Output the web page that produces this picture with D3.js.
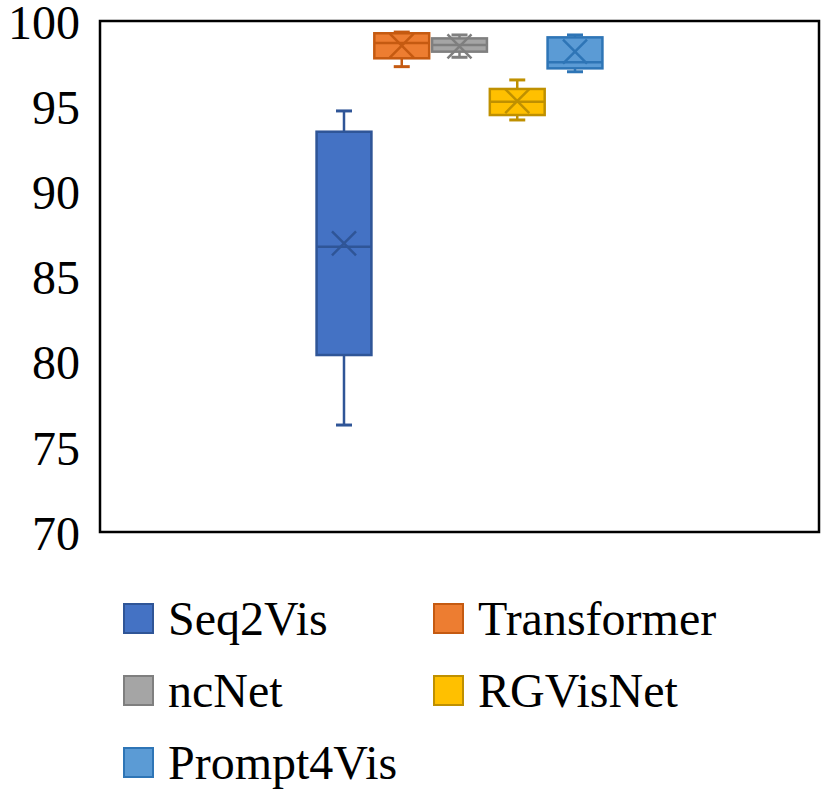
<!DOCTYPE html>
<html>
<head>
<meta charset="utf-8">
<script src="https://cdn.jsdelivr.net/npm/d3@7"></script>
<style>
  body { margin: 0; background: #fff; }
  svg text { font-family: "Liberation Serif", "Times New Roman", serif; fill: #000; }
</style>
</head>
<body>
<div id="chart"></div>
<script>
// box & whisker summary per model
const models = ["Seq2Vis", "Transformer", "ncNet", "RGVisNet", "Prompt4Vis"];
const whiskerLow = [76.28, 97.32, 97.87, 94.19, 97.02];
const q1 = [80.39, 97.81, 98.20, 94.48, 97.22];
const median = [86.75, 98.71, 98.59, 95.26, 97.58];
const q3 = [93.50, 99.28, 98.98, 96.01, 99.04];
const whiskerHigh = [94.72, 99.35, 99.18, 96.54, 99.18];
const means = [86.95, 98.56, 98.51, 95.30, 98.20];
const yTicks = [70, 75, 80, 85, 90, 95, 100];

const fills = ["#4472C4", "#ED7D31", "#A5A5A5", "#FFC000", "#5B9BD5"];
const strokes = ["#2F5597", "#C55A11", "#7F7F7F", "#BF9000", "#2E75B6"];

const width = 832, height = 796;
const plot = { left: 100, top: 21, right: 819, bottom: 532 };

const svg = d3.select("#chart").append("svg")
  .attr("width", width)
  .attr("height", height);

const y = d3.scaleLinear().domain([70, 100]).range([plot.bottom, plot.top]);

// one category, five series side by side in the middle
const x = d3.scaleBand()
  .domain(models)
  .range([plot.left, plot.right])
  .paddingInner(0.05)
  .paddingOuter(3.75);

const data = models.map((m, i) => ({
  name: m, lo: whiskerLow[i], q1: q1[i], med: median[i], q3: q3[i],
  hi: whiskerHigh[i], mean: means[i], fill: fills[i], stroke: strokes[i]
}));

// y axis labels only
const yAxis = svg.append("g")
  .attr("transform", `translate(${plot.left},0)`)
  .call(d3.axisLeft(y).tickValues(yTicks).tickSize(0).tickPadding(20));
yAxis.select(".domain").remove();
yAxis.selectAll("text")
  .attr("font-size", 48)
  .attr("dy", "0.36em")
  .attr("font-family", "Liberation Serif, Times New Roman, serif")
  .attr("fill", "#000");

const capW = 16;
const markSize = 12;

const boxes = svg.selectAll(".box")
  .data(data)
  .enter()
  .append("g")
  .attr("class", "box");

// whiskers
boxes.append("line")
  .attr("x1", d => x(d.name) + x.bandwidth() / 2)
  .attr("x2", d => x(d.name) + x.bandwidth() / 2)
  .attr("y1", d => y(d.hi))
  .attr("y2", d => y(d.q3))
  .attr("stroke", d => d.stroke).attr("stroke-width", 2.5);
boxes.append("line")
  .attr("x1", d => x(d.name) + x.bandwidth() / 2)
  .attr("x2", d => x(d.name) + x.bandwidth() / 2)
  .attr("y1", d => y(d.q1))
  .attr("y2", d => y(d.lo))
  .attr("stroke", d => d.stroke).attr("stroke-width", 2.5);
boxes.append("line")
  .attr("x1", d => x(d.name) + x.bandwidth() / 2 - capW / 2)
  .attr("x2", d => x(d.name) + x.bandwidth() / 2 + capW / 2)
  .attr("y1", d => y(d.hi)).attr("y2", d => y(d.hi))
  .attr("stroke", d => d.stroke).attr("stroke-width", 3);
boxes.append("line")
  .attr("x1", d => x(d.name) + x.bandwidth() / 2 - capW / 2)
  .attr("x2", d => x(d.name) + x.bandwidth() / 2 + capW / 2)
  .attr("y1", d => y(d.lo)).attr("y2", d => y(d.lo))
  .attr("stroke", d => d.stroke).attr("stroke-width", 3);

// box
boxes.append("rect")
  .attr("x", d => x(d.name))
  .attr("width", x.bandwidth())
  .attr("y", d => y(d.q3))
  .attr("height", d => y(d.q1) - y(d.q3))
  .attr("fill", d => d.fill)
  .attr("stroke", d => d.stroke)
  .attr("stroke-width", 2.5);

// median
boxes.append("line")
  .attr("x1", d => x(d.name))
  .attr("x2", d => x(d.name) + x.bandwidth())
  .attr("y1", d => y(d.med)).attr("y2", d => y(d.med))
  .attr("stroke", d => d.stroke).attr("stroke-width", 2.5);

// mean marker (X)
boxes.append("path")
  .attr("d", d => {
    const cx = x(d.name) + x.bandwidth() / 2, cy = y(d.mean), s = markSize;
    return `M${cx - s},${cy - s}L${cx + s},${cy + s}M${cx - s},${cy + s}L${cx + s},${cy - s}`;
  })
  .attr("fill", "none")
  .attr("stroke", d => d.stroke)
  .attr("stroke-width", 2.5);

// plot frame
svg.append("rect")
  .attr("x", plot.left).attr("y", plot.top)
  .attr("width", plot.right - plot.left)
  .attr("height", plot.bottom - plot.top)
  .attr("fill", "none")
  .attr("stroke", "#000")
  .attr("stroke-width", 2.5);

// legend, two columns
const legendCols = [123, 433];
const legendTop = 603, legendStep = 72, sq = 31;
const legend = svg.selectAll(".legend")
  .data(data)
  .enter()
  .append("g")
  .attr("class", "legend")
  .attr("transform", (d, i) => `translate(${legendCols[i % 2]},${legendTop + Math.floor(i / 2) * legendStep})`);

legend.append("rect")
  .attr("x", 1).attr("y", 1)
  .attr("width", sq - 2).attr("height", sq - 2)
  .attr("fill", d => d.fill)
  .attr("stroke", d => d.stroke)
  .attr("stroke-width", 2);

legend.append("text")
  .attr("x", 45)
  .attr("y", sq / 2)
  .attr("dy", "0.35em")
  .attr("font-size", 48)
  .text(d => d.name);
</script>
</body>
</html>
